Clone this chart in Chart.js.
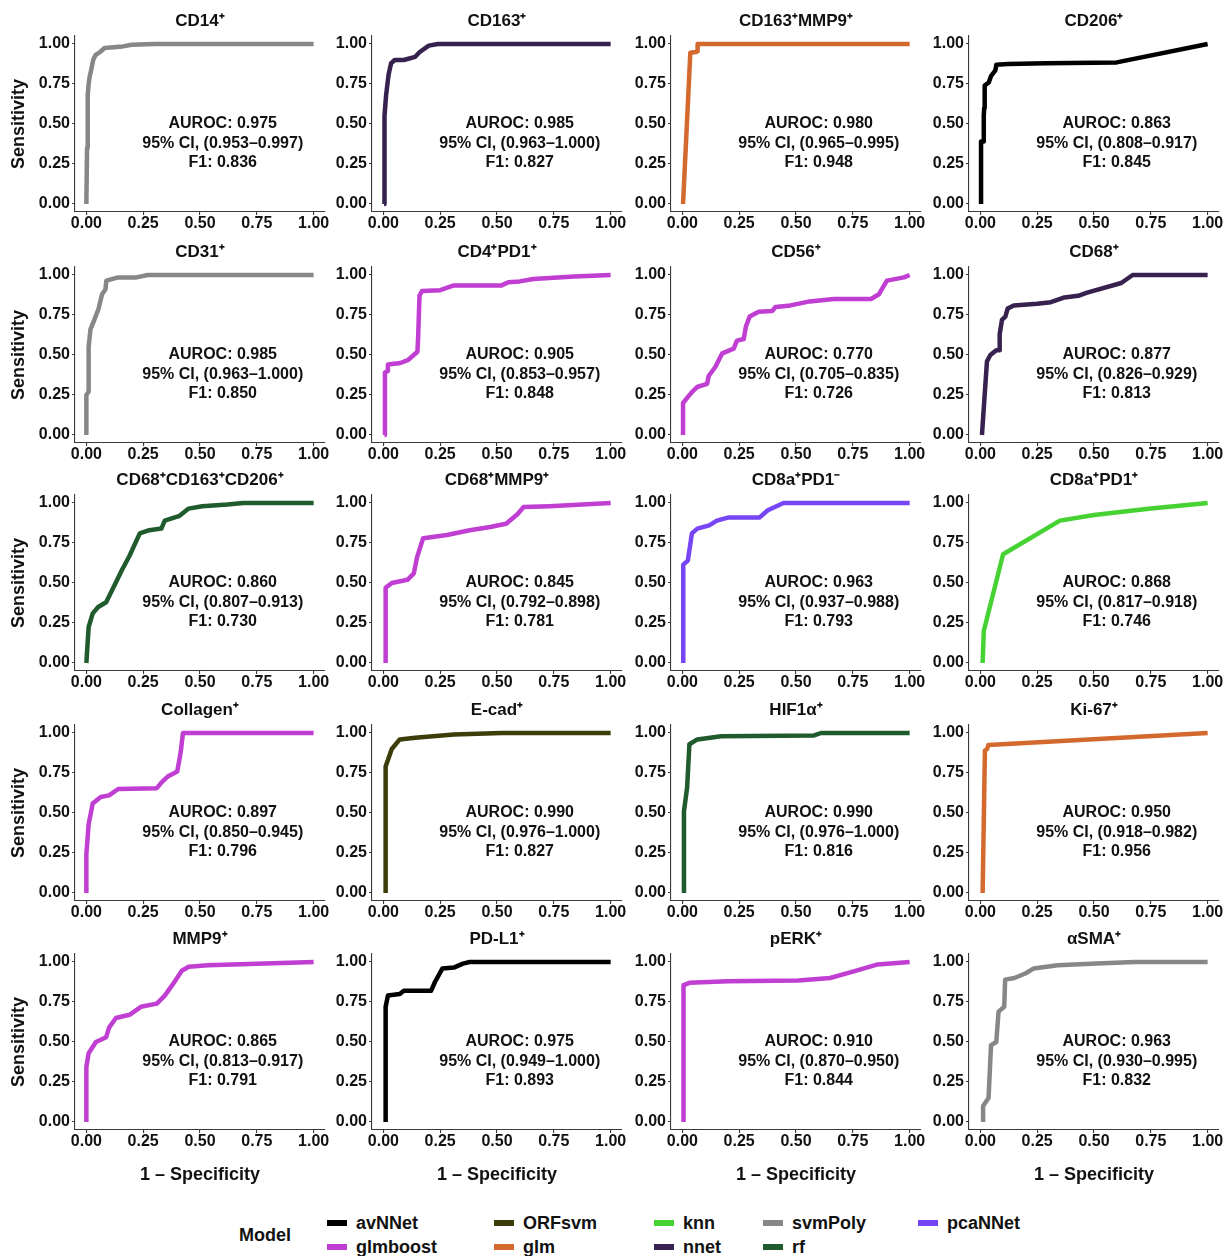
<!DOCTYPE html>
<html>
<head>
<meta charset="utf-8">
<script src="https://cdn.jsdelivr.net/npm/chart.js@4.4.1/dist/chart.umd.min.js"></script>
<style>
  body { margin: 0; background: #fff; }
  #wrap { position: relative; width: 1226px; height: 1256px; overflow: hidden; background: #fff;
          font-family: "Liberation Sans", Arial, sans-serif; font-weight: bold; color: #111; }
  #wrap canvas { position: absolute; }
  .lg { position: absolute; font-size: 18px; line-height: 20px; white-space: nowrap; }
  .key { position: absolute; width: 20px; height: 6px; }
</style>
</head>
<body>
<div id="wrap"></div>
<script>
// models and their colours
var modelNames  = ['avNNet', 'glmboost', 'ORFsvm', 'glm', 'knn', 'nnet', 'svmPoly', 'rf', 'pcaNNet'];
var modelColors = ['#000000', '#C13ED3', '#3D3D0B', '#D4692E', '#46D233', '#37214F', '#878787', '#1F5B2D', '#7645F6'];

// panels
var panelTitles = ['CD14⁺', 'CD163⁺', 'CD163⁺MMP9⁺', 'CD206⁺',
                   'CD31⁺', 'CD4⁺PD1⁺', 'CD56⁺', 'CD68⁺',
                   'CD68⁺CD163⁺CD206⁺', 'CD68⁺MMP9⁺', 'CD8a⁺PD1⁻', 'CD8a⁺PD1⁺',
                   'Collagen⁺', 'E-cad⁺', 'HIF1α⁺', 'Ki-67⁺',
                   'MMP9⁺', 'PD-L1⁺', 'pERK⁺', 'αSMA⁺'];
var panelModels = ['svmPoly', 'nnet', 'glm', 'avNNet',
                   'svmPoly', 'glmboost', 'glmboost', 'nnet',
                   'rf', 'glmboost', 'pcaNNet', 'knn',
                   'glmboost', 'ORFsvm', 'rf', 'glm',
                   'glmboost', 'avNNet', 'glmboost', 'svmPoly'];
var aurocVals = [0.975, 0.985, 0.980, 0.863, 0.985, 0.905, 0.770, 0.877, 0.860, 0.845,
                 0.963, 0.868, 0.897, 0.990, 0.990, 0.950, 0.865, 0.975, 0.910, 0.963];
var ciLow  = [0.953, 0.963, 0.965, 0.808, 0.963, 0.853, 0.705, 0.826, 0.807, 0.792,
              0.937, 0.817, 0.850, 0.976, 0.976, 0.918, 0.813, 0.949, 0.870, 0.930];
var ciHigh = [0.997, 1.000, 0.995, 0.917, 1.000, 0.957, 0.835, 0.929, 0.913, 0.898,
              0.988, 0.918, 0.945, 1.000, 1.000, 0.982, 0.917, 1.000, 0.950, 0.995];
var f1Vals = [0.836, 0.827, 0.948, 0.845, 0.850, 0.848, 0.726, 0.813, 0.730, 0.781,
              0.793, 0.746, 0.796, 0.827, 0.816, 0.956, 0.791, 0.893, 0.844, 0.832];

var tickVals = [0, 0.25, 0.5, 0.75, 1];

// ROC curves: 1 - specificity (fpr) and sensitivity (tpr)
var fpr_cd14 = [0, 0.003, 0.006, 0.01, 0.015, 0.02, 0.03, 0.04, 0.06, 0.08, 0.12, 0.16, 0.2, 0.3, 1];
var tpr_cd14 = [0, 0.35, 0.68, 0.75, 0.8, 0.83, 0.9, 0.93, 0.95, 0.975, 0.98, 0.985, 0.995, 1, 1];
var fpr_cd163 = [0.003, 0.004, 0.006, 0.012, 0.018, 0.023, 0.034, 0.05, 0.09, 0.14, 0.16, 0.2, 0.24, 1];
var tpr_cd163 = [0, 0.49, 0.55, 0.68, 0.75, 0.81, 0.88, 0.9, 0.9, 0.92, 0.95, 0.99, 1, 1];
var fpr_cd163mmp9 = [0.003, 0.035, 0.06, 0.067, 0.067, 1];
var tpr_cd163mmp9 = [0, 0.945, 0.95, 0.955, 1, 1];
var fpr_cd206 = [0.003, 0.003, 0.015, 0.015, 0.017, 0.019, 0.037, 0.047, 0.066, 0.07, 0.12, 0.29, 0.6, 1];
var tpr_cd206 = [0, 0.39, 0.39, 0.55, 0.6, 0.74, 0.76, 0.8, 0.835, 0.87, 0.875, 0.88, 0.885, 1];
var fpr_cd31 = [0, 0, 0.01, 0.01, 0.018, 0.035, 0.054, 0.069, 0.084, 0.088, 0.14, 0.22, 0.27, 1];
var tpr_cd31 = [0, 0.25, 0.27, 0.55, 0.66, 0.72, 0.79, 0.88, 0.91, 0.965, 0.985, 0.985, 1, 1];
var fpr_cd4pd1 = [0.005, 0.007, 0.02, 0.02, 0.075, 0.11, 0.15, 0.153, 0.159, 0.17, 0.25, 0.31, 0.52, 0.55, 0.6, 0.66, 0.84, 1];
var tpr_cd4pd1 = [0, 0.39, 0.4, 0.44, 0.45, 0.47, 0.52, 0.61, 0.87, 0.9, 0.905, 0.935, 0.935, 0.955, 0.96, 0.975, 0.99, 1];
var fpr_cd56 = [0.003, 0.003, 0.02, 0.043, 0.065, 0.109, 0.116, 0.145, 0.175, 0.226, 0.24, 0.27, 0.28, 0.296, 0.336, 0.395, 0.41, 0.476, 0.56, 0.666, 0.83, 0.865, 0.9, 0.975, 1];
var tpr_cd56 = [0, 0.2, 0.23, 0.27, 0.3, 0.32, 0.37, 0.425, 0.51, 0.54, 0.59, 0.6, 0.68, 0.74, 0.77, 0.775, 0.8, 0.81, 0.835, 0.85, 0.85, 0.88, 0.965, 0.985, 1];
var fpr_cd68 = [0.007, 0.029, 0.044, 0.07, 0.085, 0.085, 0.095, 0.11, 0.12, 0.147, 0.25, 0.31, 0.37, 0.43, 0.47, 0.62, 0.67, 1];
var tpr_cd68 = [0, 0.46, 0.5, 0.53, 0.53, 0.63, 0.72, 0.74, 0.79, 0.81, 0.82, 0.83, 0.86, 0.87, 0.89, 0.95, 1, 1];
var fpr_cd68cd163cd206 = [0, 0.01, 0.028, 0.052, 0.087, 0.12, 0.156, 0.19, 0.235, 0.277, 0.33, 0.345, 0.41, 0.45, 0.51, 0.62, 0.69, 1];
var tpr_cd68cd163cd206 = [0, 0.225, 0.31, 0.35, 0.38, 0.475, 0.58, 0.67, 0.81, 0.83, 0.84, 0.89, 0.92, 0.965, 0.98, 0.99, 1, 1];
var fpr_cd68mmp9 = [0.01, 0.01, 0.037, 0.106, 0.134, 0.148, 0.175, 0.28, 0.38, 0.47, 0.54, 0.59, 0.617, 0.73, 1];
var tpr_cd68mmp9 = [0, 0.47, 0.5, 0.52, 0.56, 0.66, 0.78, 0.8, 0.83, 0.85, 0.87, 0.93, 0.975, 0.98, 1];
var fpr_cd8apd1neg = [0.004, 0.004, 0.024, 0.042, 0.066, 0.118, 0.152, 0.204, 0.34, 0.376, 0.445, 1];
var tpr_cd8apd1neg = [0, 0.615, 0.64, 0.81, 0.84, 0.86, 0.89, 0.91, 0.91, 0.955, 1, 1];
var fpr_cd8apd1pos = [0.01, 0.015, 0.1, 0.35, 0.5, 0.75, 1];
var tpr_cd8apd1pos = [0, 0.2, 0.68, 0.89, 0.925, 0.965, 1];
var fpr_collagen = [0, 0, 0.01, 0.028, 0.063, 0.1, 0.14, 0.31, 0.33, 0.36, 0.4, 0.415, 0.425, 1];
var tpr_collagen = [0, 0.245, 0.43, 0.56, 0.6, 0.61, 0.65, 0.655, 0.69, 0.73, 0.76, 0.88, 1, 1];
var fpr_ecad = [0.01, 0.01, 0.037, 0.072, 0.14, 0.31, 0.52, 1];
var tpr_ecad = [0, 0.79, 0.9, 0.96, 0.97, 0.99, 1, 1];
var fpr_hif1a = [0.007, 0.007, 0.021, 0.031, 0.066, 0.17, 0.58, 0.61, 1];
var tpr_hif1a = [0, 0.51, 0.66, 0.93, 0.96, 0.98, 0.985, 1, 1];
var fpr_ki67 = [0.01, 0.02, 0.03, 0.035, 1];
var tpr_ki67 = [0, 0.89, 0.9, 0.925, 1];
var fpr_mmp9 = [0, 0, 0.01, 0.042, 0.087, 0.1, 0.13, 0.19, 0.24, 0.31, 0.345, 0.38, 0.42, 0.45, 0.535, 1];
var tpr_mmp9 = [0, 0.345, 0.43, 0.5, 0.53, 0.59, 0.65, 0.67, 0.72, 0.74, 0.79, 0.86, 0.945, 0.97, 0.98, 1];
var fpr_pdl1 = [0.01, 0.01, 0.02, 0.072, 0.09, 0.21, 0.227, 0.26, 0.31, 0.35, 0.38, 1];
var tpr_pdl1 = [0, 0.72, 0.79, 0.8, 0.82, 0.82, 0.875, 0.96, 0.965, 0.99, 1, 1];
var fpr_perk = [0.005, 0.005, 0.031, 0.2, 0.51, 0.65, 0.75, 0.86, 1];
var tpr_perk = [0, 0.855, 0.87, 0.88, 0.885, 0.9, 0.94, 0.985, 1];
var fpr_asma = [0.012, 0.012, 0.036, 0.047, 0.07, 0.08, 0.105, 0.109, 0.15, 0.2, 0.235, 0.34, 0.51, 0.68, 1];
var tpr_asma = [0, 0.1, 0.15, 0.48, 0.5, 0.69, 0.72, 0.89, 0.9, 0.93, 0.96, 0.98, 0.99, 1, 1];

var curves = [
  [fpr_cd14, tpr_cd14], [fpr_cd163, tpr_cd163], [fpr_cd163mmp9, tpr_cd163mmp9], [fpr_cd206, tpr_cd206],
  [fpr_cd31, tpr_cd31], [fpr_cd4pd1, tpr_cd4pd1], [fpr_cd56, tpr_cd56], [fpr_cd68, tpr_cd68],
  [fpr_cd68cd163cd206, tpr_cd68cd163cd206], [fpr_cd68mmp9, tpr_cd68mmp9], [fpr_cd8apd1neg, tpr_cd8apd1neg], [fpr_cd8apd1pos, tpr_cd8apd1pos],
  [fpr_collagen, tpr_collagen], [fpr_ecad, tpr_ecad], [fpr_hif1a, tpr_hif1a], [fpr_ki67, tpr_ki67],
  [fpr_mmp9, tpr_mmp9], [fpr_pdl1, tpr_pdl1], [fpr_perk, tpr_perk], [fpr_asma, tpr_asma]
];

// layout of the grid (pixels)
var plotLeft = [75, 372, 671, 969];
var plotTop = [34, 265, 493, 723, 952];
var plotW = 250, plotH = 176, titleH = 31, padR = 20;
var FONT = "'Liberation Sans', Arial, sans-serif";
var axisColor = '#3a3a3a';

// text block with AUROC / CI / F1 inside each panel
var statsText = {
  id: 'statsText',
  afterDatasetsDraw: function (chart, args, opts) {
    var ctx = chart.ctx;
    var xs = chart.scales.x, ys = chart.scales.y;
    ctx.save();
    ctx.font = 'bold 16px ' + FONT;
    ctx.fillStyle = '#111';
    ctx.textAlign = 'center';
    ctx.textBaseline = 'middle';
    var ly = [0.5, 0.38, 0.26];
    for (var k = 0; k < opts.lines.length; k++) {
      ctx.fillText(opts.lines[k], xs.getPixelForValue(0.6), ys.getPixelForValue(ly[k]));
    }
    ctx.restore();
  }
};

function fixTicks(scale) {
  scale.ticks = tickVals.map(function (v) { return { value: v }; });
}

var wrap = document.getElementById('wrap');

for (var i = 0; i < panelTitles.length; i++) {
  var r = Math.floor(i / 4), c = i % 4;
  var yw = (c === 0) ? plotLeft[0] : 50;
  var xh = (r === 4) ? 60 : 30;
  var cv = document.createElement('canvas');
  cv.width = yw + plotW + padR;
  cv.height = titleH + plotH + xh;
  cv.style.left = (plotLeft[c] - yw) + 'px';
  cv.style.top = (plotTop[r] - titleH + 2) + 'px';
  wrap.appendChild(cv);

  var col = modelColors[modelNames.indexOf(panelModels[i])];
  var pts = curves[i][0].map(function (x, k) { return { x: x, y: this[k] }; }, curves[i][1]);
  var yFit = yw, xFit = xh;

  new Chart(cv.getContext('2d'), {
    type: 'line',
    data: {
      datasets: [{
        data: pts,
        borderColor: col,
        borderWidth: 4.5,
        borderJoinStyle: 'round',
        pointRadius: 0,
        fill: false,
        tension: 0
      }]
    },
    options: {
      responsive: false,
      animation: false,
      events: [],
      layout: { padding: { left: 0, right: padR, top: 0, bottom: 0 } },
      plugins: {
        legend: { display: false },
        tooltip: { enabled: false },
        title: {
          display: true,
          text: panelTitles[i],
          fullSize: false,
          color: '#111',
          font: { family: FONT, size: 17, weight: 'bold', lineHeight: 1.2 },
          padding: { top: 6, bottom: 4.6 }
        },
        statsText: {
          lines: ['AUROC: ' + aurocVals[i].toFixed(3),
                  '95% CI, (' + ciLow[i].toFixed(3) + '–' + ciHigh[i].toFixed(3) + ')',
                  'F1: ' + f1Vals[i].toFixed(3)]
        }
      },
      scales: {
        x: {
          type: 'linear',
          min: -0.05, max: 1.05,
          afterBuildTicks: fixTicks,
          afterFit: (function (h) { return function (s) { s.height = h; }; })(xFit),
          grid: { drawOnChartArea: false, drawTicks: true, tickLength: 3, color: axisColor, lineWidth: 1.1 },
          border: { display: true, color: axisColor, width: 1.1 },
          ticks: {
            color: '#111', padding: -1, maxRotation: 0, autoSkip: false,
            font: { family: FONT, size: 16, weight: 'bold' },
            callback: function (v) { return v.toFixed(2); }
          },
          title: {
            display: r === 4,
            text: '1 – Specificity',
            color: '#111',
            font: { family: FONT, size: 18, weight: 'bold', lineHeight: 1.2 },
            padding: { top: 0, bottom: 4 }
          }
        },
        y: {
          type: 'linear',
          min: -0.05, max: 1.05,
          afterBuildTicks: fixTicks,
          afterFit: (function (w) { return function (s) { s.width = w; }; })(yFit),
          grid: { drawOnChartArea: false, drawTicks: true, tickLength: 3, color: axisColor, lineWidth: 1.1 },
          border: { display: true, color: axisColor, width: 1.1 },
          ticks: {
            color: '#111', padding: 2, autoSkip: false,
            font: { family: FONT, size: 16, weight: 'bold' },
            callback: function (v) { return v.toFixed(2); }
          },
          title: {
            display: c === 0,
            text: 'Sensitivity',
            color: '#111',
            font: { family: FONT, size: 18, weight: 'bold', lineHeight: 1.2 },
            padding: { top: 8, bottom: 0 }
          }
        }
      }
    },
    plugins: [statsText]
  });
}

// legend (two rows, filled column by column)
var legendKeyX = [327, 494, 654, 763, 918];
var legendRowY = [1223, 1247];

var lgTitle = document.createElement('div');
lgTitle.className = 'lg';
lgTitle.textContent = 'Model';
lgTitle.style.left = '239px';
lgTitle.style.top = (1235 - 10) + 'px';
wrap.appendChild(lgTitle);

for (var m = 0; m < modelNames.length; m++) {
  var lc = Math.floor(m / 2), lr = m % 2;
  var key = document.createElement('div');
  key.className = 'key';
  key.style.background = modelColors[m];
  key.style.left = legendKeyX[lc] + 'px';
  key.style.top = (legendRowY[lr] - 3) + 'px';
  wrap.appendChild(key);
  var lab = document.createElement('div');
  lab.className = 'lg';
  lab.textContent = modelNames[m];
  lab.style.left = (legendKeyX[lc] + 29) + 'px';
  lab.style.top = (legendRowY[lr] - 10) + 'px';
  wrap.appendChild(lab);
}
</script>
</body>
</html>
